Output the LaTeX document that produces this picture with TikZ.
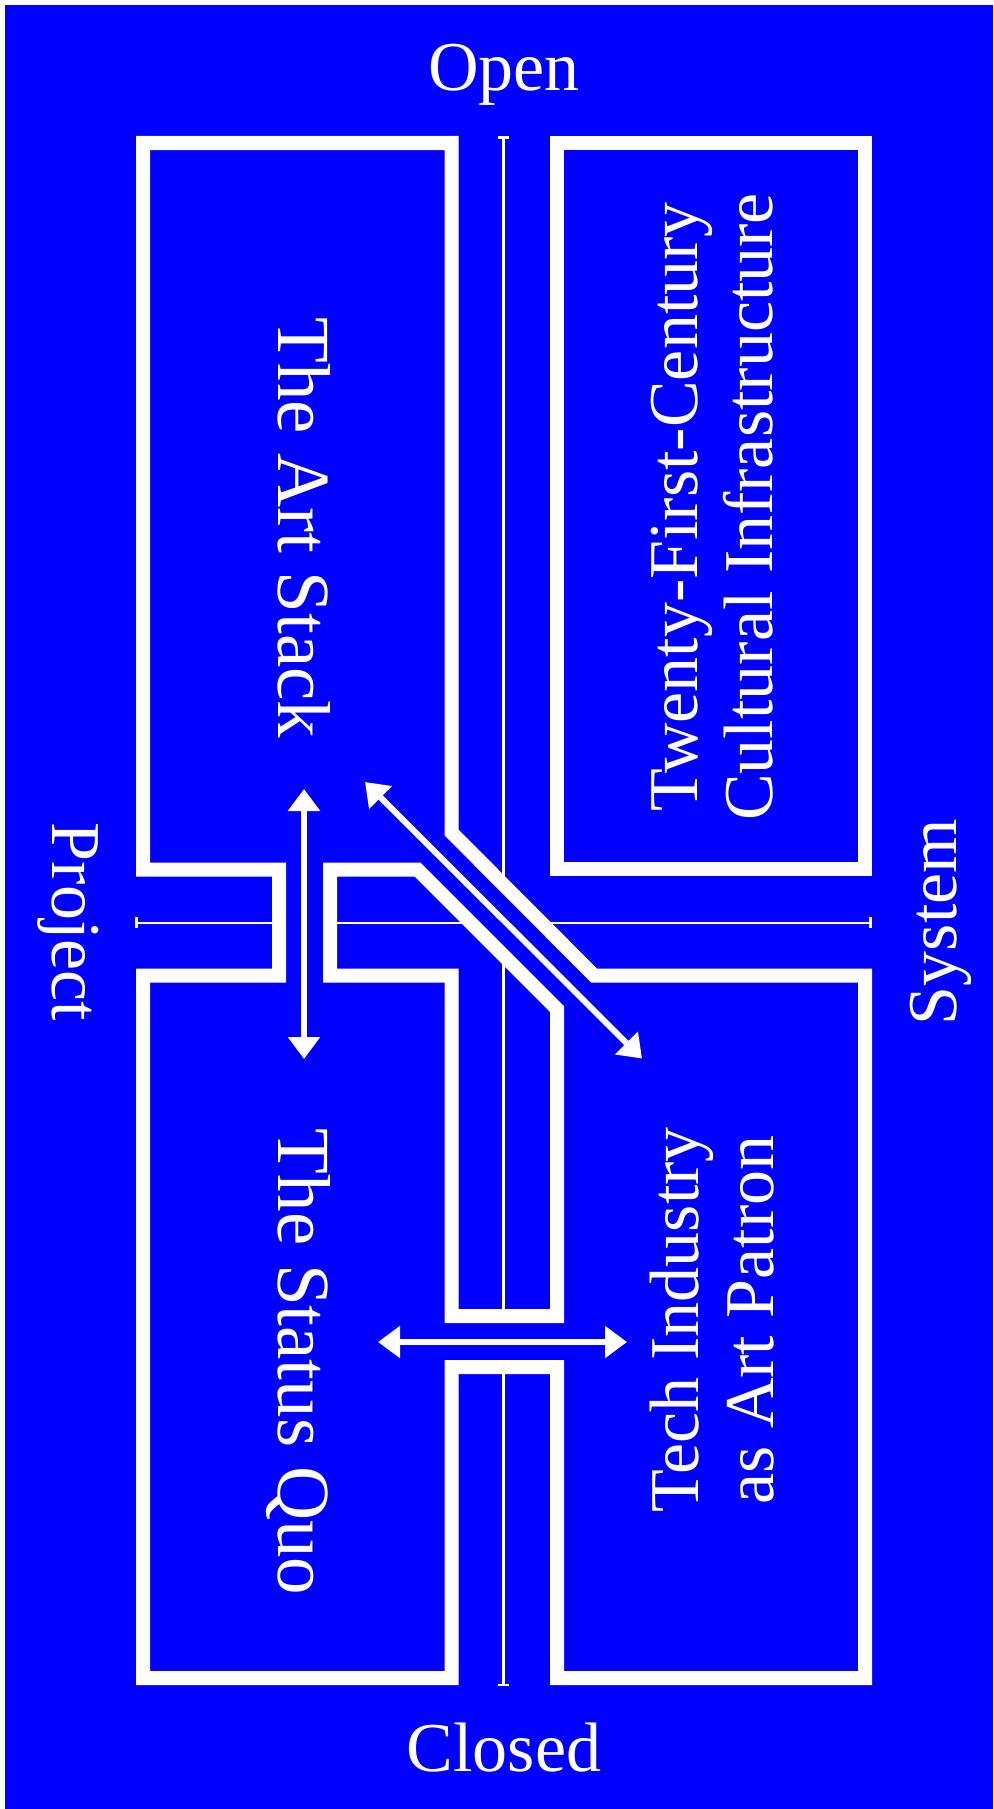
\documentclass[tikz,border=0pt]{standalone}
\usepackage{fontspec}
\setmainfont{Liberation Serif}
\usetikzlibrary{arrows.meta}
\definecolor{bg}{RGB}{0,0,255}
\begin{document}
\begin{tikzpicture}[x=1pt,y=-1pt,
  wall/.style={draw=white,line width=14pt,fill=bg,line join=miter},
  thinline/.style={draw=white,line width=2.2pt},
  tickmark/.style={draw=white,line width=2.5pt},
  dbl/.style={draw=white,line width=6pt,{Triangle[length=22pt,width=31pt]}-{Triangle[length=22pt,width=31pt]}},
  big/.style={text=white,font=\fontsize{75}{78}\selectfont,inner sep=0pt},
  two/.style={text=white,font=\fontsize{70}{75}\selectfont,inner sep=0pt,align=center},
  lbl/.style={text=white,font=\fontsize{70}{76}\selectfont,inner sep=0pt},
]
\useasboundingbox (0,0) rectangle (993,1809);
\fill[white] (0,0) rectangle (993,1809);
\fill[bg] (5,5) rectangle (993,1809);

% axes
\coordinate (vtop) at (503.5,137.5);
\coordinate (vbot) at (503.5,1685);
\coordinate (hleft) at (136.7,922.7);
\coordinate (hright) at (870.7,922.7);
\draw[thinline] (vtop) -- (vbot);
\draw[thinline] (hleft) -- (hright);
\draw[tickmark] ([xshift=-5.5pt]vtop) -- ([xshift=5.5pt]vtop);
\draw[tickmark] ([xshift=-5.5pt]vbot) -- ([xshift=5.5pt]vbot);
\draw[tickmark] ([yshift=-5.5pt]hleft) -- ([yshift=5.5pt]hleft);
\draw[tickmark] ([yshift=-5.5pt]hright) -- ([yshift=5.5pt]hright);

% right upper room
\path[wall] (557,143) rectangle (865,869);

% connected rooms
\path[wall,even odd rule]
  (143,143) -- (451.5,143) -- (451.5,832.5) -- (594,975.5) -- (865,975.5)
  -- (865,1678) -- (557,1678) -- (557,1367) -- (451.5,1367) -- (451.5,1678)
  -- (143,1678) -- (143,975.5) -- (279,975.5) -- (279,869.5) -- (143,869.5) -- cycle
  (330,869.5) -- (417.5,869.5) -- (557,1009) -- (557,1316) -- (451.5,1316)
  -- (451.5,975.5) -- (330,975.5) -- cycle;

% arrows
\coordinate (va) at (304,789);
\coordinate (vb) at (304,1059);
\coordinate (da) at (365,782);
\coordinate (db) at (642,1058.5);
\coordinate (ha) at (378,1342);
\coordinate (hb) at (627,1342);
\draw[dbl] (va) -- (vb);
\draw[dbl] (da) -- (db);
\draw[dbl] (ha) -- (hb);

% labels
\node[lbl,anchor=base] (open) at (504,90.7) {Open};
\node[lbl,anchor=base] (closed) at (504,1771.7) {Closed};
\node[lbl,anchor=base,rotate=-90] (project) at (52,922) {Project};
\node[lbl,anchor=base,rotate=90] (system) at (956.7,922) {System};

\node[big,anchor=base,rotate=-90] (artstack) at (278,528) {The Art Stack};
\node[big,anchor=base,rotate=-90] (statusquo) at (278,1362) {The Status Quo};
\node[two,rotate=90] (infra) at (712,507) {Twenty-First-Century\\Cultural Infrastructure};
\node[two,rotate=90] (tech) at (712,1320) {Tech Industry\\as Art Patron};
\end{tikzpicture}
\end{document}
